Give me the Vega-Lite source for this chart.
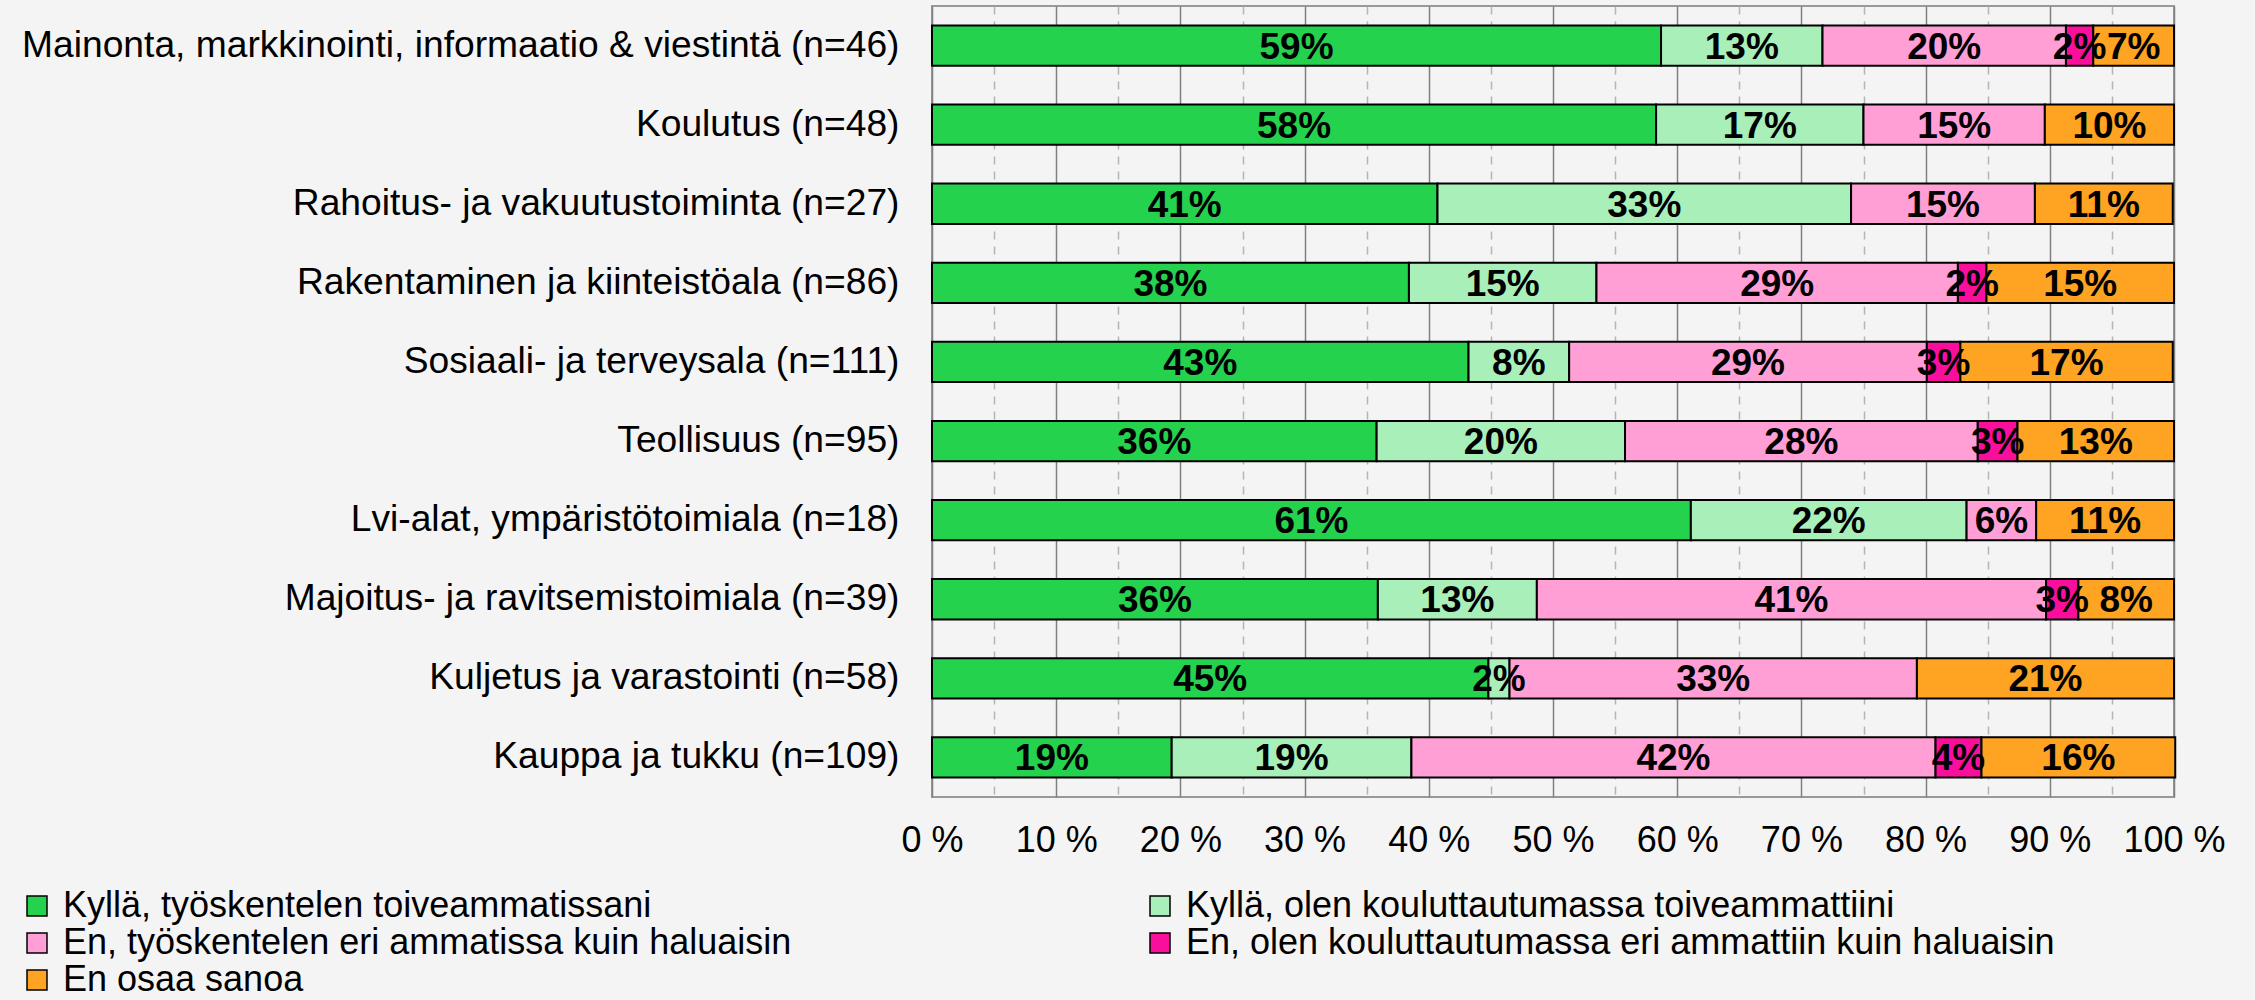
{
  "$schema": "https://vega.github.io/schema/vega-lite/v6.json",
  "autosize": {"type": "none"},
  "padding": {"left": 932, "top": 6, "right": 81, "bottom": 203},
  "width": 1242,
  "height": 791,
  "background": "#f4f4f4",
  "config": {
    "font": "Liberation Sans",
    "view": {"stroke": "#999999", "strokeWidth": 2, "fill": "#f4f4f4"}
  },
  "data": {"values": [
    {"c": "Mainonta, markkinointi, informaatio & viestintä (n=46)", "r": "Kyllä, työskentelen toiveammatissani", "v": 58.7},
    {"c": "Mainonta, markkinointi, informaatio & viestintä (n=46)", "r": "Kyllä, olen kouluttautumassa toiveammattiini", "v": 13.0},
    {"c": "Mainonta, markkinointi, informaatio & viestintä (n=46)", "r": "En, työskentelen eri ammatissa kuin haluaisin", "v": 19.6},
    {"c": "Mainonta, markkinointi, informaatio & viestintä (n=46)", "r": "En, olen kouluttautumassa eri ammattiin kuin haluaisin", "v": 2.2},
    {"c": "Mainonta, markkinointi, informaatio & viestintä (n=46)", "r": "En osaa sanoa", "v": 6.5},
    {"c": "Koulutus (n=48)", "r": "Kyllä, työskentelen toiveammatissani", "v": 58.3},
    {"c": "Koulutus (n=48)", "r": "Kyllä, olen kouluttautumassa toiveammattiini", "v": 16.7},
    {"c": "Koulutus (n=48)", "r": "En, työskentelen eri ammatissa kuin haluaisin", "v": 14.6},
    {"c": "Koulutus (n=48)", "r": "En osaa sanoa", "v": 10.4},
    {"c": "Rahoitus- ja vakuutustoiminta (n=27)", "r": "Kyllä, työskentelen toiveammatissani", "v": 40.7},
    {"c": "Rahoitus- ja vakuutustoiminta (n=27)", "r": "Kyllä, olen kouluttautumassa toiveammattiini", "v": 33.3},
    {"c": "Rahoitus- ja vakuutustoiminta (n=27)", "r": "En, työskentelen eri ammatissa kuin haluaisin", "v": 14.8},
    {"c": "Rahoitus- ja vakuutustoiminta (n=27)", "r": "En osaa sanoa", "v": 11.1},
    {"c": "Rakentaminen ja kiinteistöala (n=86)", "r": "Kyllä, työskentelen toiveammatissani", "v": 38.4},
    {"c": "Rakentaminen ja kiinteistöala (n=86)", "r": "Kyllä, olen kouluttautumassa toiveammattiini", "v": 15.1},
    {"c": "Rakentaminen ja kiinteistöala (n=86)", "r": "En, työskentelen eri ammatissa kuin haluaisin", "v": 29.1},
    {"c": "Rakentaminen ja kiinteistöala (n=86)", "r": "En, olen kouluttautumassa eri ammattiin kuin haluaisin", "v": 2.3},
    {"c": "Rakentaminen ja kiinteistöala (n=86)", "r": "En osaa sanoa", "v": 15.1},
    {"c": "Sosiaali- ja terveysala (n=111)", "r": "Kyllä, työskentelen toiveammatissani", "v": 43.2},
    {"c": "Sosiaali- ja terveysala (n=111)", "r": "Kyllä, olen kouluttautumassa toiveammattiini", "v": 8.1},
    {"c": "Sosiaali- ja terveysala (n=111)", "r": "En, työskentelen eri ammatissa kuin haluaisin", "v": 28.8},
    {"c": "Sosiaali- ja terveysala (n=111)", "r": "En, olen kouluttautumassa eri ammattiin kuin haluaisin", "v": 2.7},
    {"c": "Sosiaali- ja terveysala (n=111)", "r": "En osaa sanoa", "v": 17.1},
    {"c": "Teollisuus (n=95)", "r": "Kyllä, työskentelen toiveammatissani", "v": 35.8},
    {"c": "Teollisuus (n=95)", "r": "Kyllä, olen kouluttautumassa toiveammattiini", "v": 20.0},
    {"c": "Teollisuus (n=95)", "r": "En, työskentelen eri ammatissa kuin haluaisin", "v": 28.4},
    {"c": "Teollisuus (n=95)", "r": "En, olen kouluttautumassa eri ammattiin kuin haluaisin", "v": 3.2},
    {"c": "Teollisuus (n=95)", "r": "En osaa sanoa", "v": 12.6},
    {"c": "Lvi-alat, ympäristötoimiala (n=18)", "r": "Kyllä, työskentelen toiveammatissani", "v": 61.1},
    {"c": "Lvi-alat, ympäristötoimiala (n=18)", "r": "Kyllä, olen kouluttautumassa toiveammattiini", "v": 22.2},
    {"c": "Lvi-alat, ympäristötoimiala (n=18)", "r": "En, työskentelen eri ammatissa kuin haluaisin", "v": 5.6},
    {"c": "Lvi-alat, ympäristötoimiala (n=18)", "r": "En osaa sanoa", "v": 11.1},
    {"c": "Majoitus- ja ravitsemistoimiala (n=39)", "r": "Kyllä, työskentelen toiveammatissani", "v": 35.9},
    {"c": "Majoitus- ja ravitsemistoimiala (n=39)", "r": "Kyllä, olen kouluttautumassa toiveammattiini", "v": 12.8},
    {"c": "Majoitus- ja ravitsemistoimiala (n=39)", "r": "En, työskentelen eri ammatissa kuin haluaisin", "v": 41.0},
    {"c": "Majoitus- ja ravitsemistoimiala (n=39)", "r": "En, olen kouluttautumassa eri ammattiin kuin haluaisin", "v": 2.6},
    {"c": "Majoitus- ja ravitsemistoimiala (n=39)", "r": "En osaa sanoa", "v": 7.7},
    {"c": "Kuljetus ja varastointi (n=58)", "r": "Kyllä, työskentelen toiveammatissani", "v": 44.8},
    {"c": "Kuljetus ja varastointi (n=58)", "r": "Kyllä, olen kouluttautumassa toiveammattiini", "v": 1.7},
    {"c": "Kuljetus ja varastointi (n=58)", "r": "En, työskentelen eri ammatissa kuin haluaisin", "v": 32.8},
    {"c": "Kuljetus ja varastointi (n=58)", "r": "En osaa sanoa", "v": 20.7},
    {"c": "Kauppa ja tukku (n=109)", "r": "Kyllä, työskentelen toiveammatissani", "v": 19.3},
    {"c": "Kauppa ja tukku (n=109)", "r": "Kyllä, olen kouluttautumassa toiveammattiini", "v": 19.3},
    {"c": "Kauppa ja tukku (n=109)", "r": "En, työskentelen eri ammatissa kuin haluaisin", "v": 42.2},
    {"c": "Kauppa ja tukku (n=109)", "r": "En, olen kouluttautumassa eri ammattiin kuin haluaisin", "v": 3.7},
    {"c": "Kauppa ja tukku (n=109)", "r": "En osaa sanoa", "v": 15.6}
  ]},
  "transform": [
    {"stack": "v", "groupby": ["c"], "sort": [{"field": "r", "order": "descending"}], "as": ["x0", "x1"]},
    {"calculate": "(datum.x0 + datum.x1) / 2", "as": "xm"},
    {"calculate": "format(datum.v, '.0f') + '%'", "as": "lab"}
  ],
  "encoding": {
    "y": {
      "field": "c", "type": "nominal", "sort": null, "title": null,
      "scale": {"paddingInner": 0.49, "paddingOuter": 0.245},
      "axis": {"labelFontSize": 37.2, "labelColor": "#000000", "labelPadding": 33, "ticks": false, "domain": false, "labelLimit": 1200, "labelFont": "Liberation Sans"}
    }
  },
  "layer": [
    {
      "mark": {"type": "text", "opacity": 0},
      "encoding": {
        "x": {
          "field": "xm", "type": "quantitative", "title": null,
          "axis": {"orient": "top", "values": [5, 15, 25, 35, 45, 55, 65, 75, 85, 95], "labels": false, "ticks": false, "domain": false, "grid": true, "gridColor": "#b4b4b4", "gridWidth": 1.5, "gridDash": [8, 7]}
        },
        "text": {"value": ""}
      }
    },
    {
      "mark": {"type": "bar", "stroke": "#000000", "strokeWidth": 2},
      "encoding": {
        "x": {
          "field": "x0", "type": "quantitative", "title": null,
          "scale": {"domain": [0, 100], "nice": false, "zero": true},
          "axis": {"values": [0, 10, 20, 30, 40, 50, 60, 70, 80, 90, 100], "labelExpr": "datum.value + ' %'", "labelFontSize": 36, "labelColor": "#000000", "labelPadding": 26, "ticks": false, "domain": false, "grid": true, "gridColor": "#808080", "gridWidth": 1.5, "labelFont": "Liberation Sans", "labelFlush": false}
        },
        "x2": {"field": "x1"},
        "color": {
          "field": "r", "type": "nominal",
          "scale": {
            "domain": ["Kyllä, työskentelen toiveammatissani", "Kyllä, olen kouluttautumassa toiveammattiini", "En, työskentelen eri ammatissa kuin haluaisin", "En, olen kouluttautumassa eri ammattiin kuin haluaisin", "En osaa sanoa"],
            "range": ["#25d24e", "#a9efb9", "#ff9fd6", "#fa0f9c", "#ffa322"]
          },
          "legend": {
            "title": null, "orient": "none", "legendX": -913, "legendY": 882, "columns": 2, "direction": "horizontal",
            "columnPadding": 350, "rowPadding": 1, "symbolType": "square", "symbolSize": 400, "symbolStrokeColor": "#000000", "symbolStrokeWidth": 1.5,
            "labelFontSize": 36, "labelColor": "#000000", "labelOffset": 8, "labelLimit": 1200, "labelFont": "Liberation Sans"
          }
        }
      }
    },
    {
      "mark": {"type": "text", "fontWeight": "bold", "fontSize": 37, "color": "#000000", "baseline": "middle", "align": "center", "dy": 2, "font": "Liberation Sans"},
      "encoding": {
        "x": {"field": "xm", "type": "quantitative", "axis": null},
        "text": {"field": "lab", "type": "nominal"}
      }
    }
  ],
  "resolve": {"axis": {"x": "independent"}}
}
